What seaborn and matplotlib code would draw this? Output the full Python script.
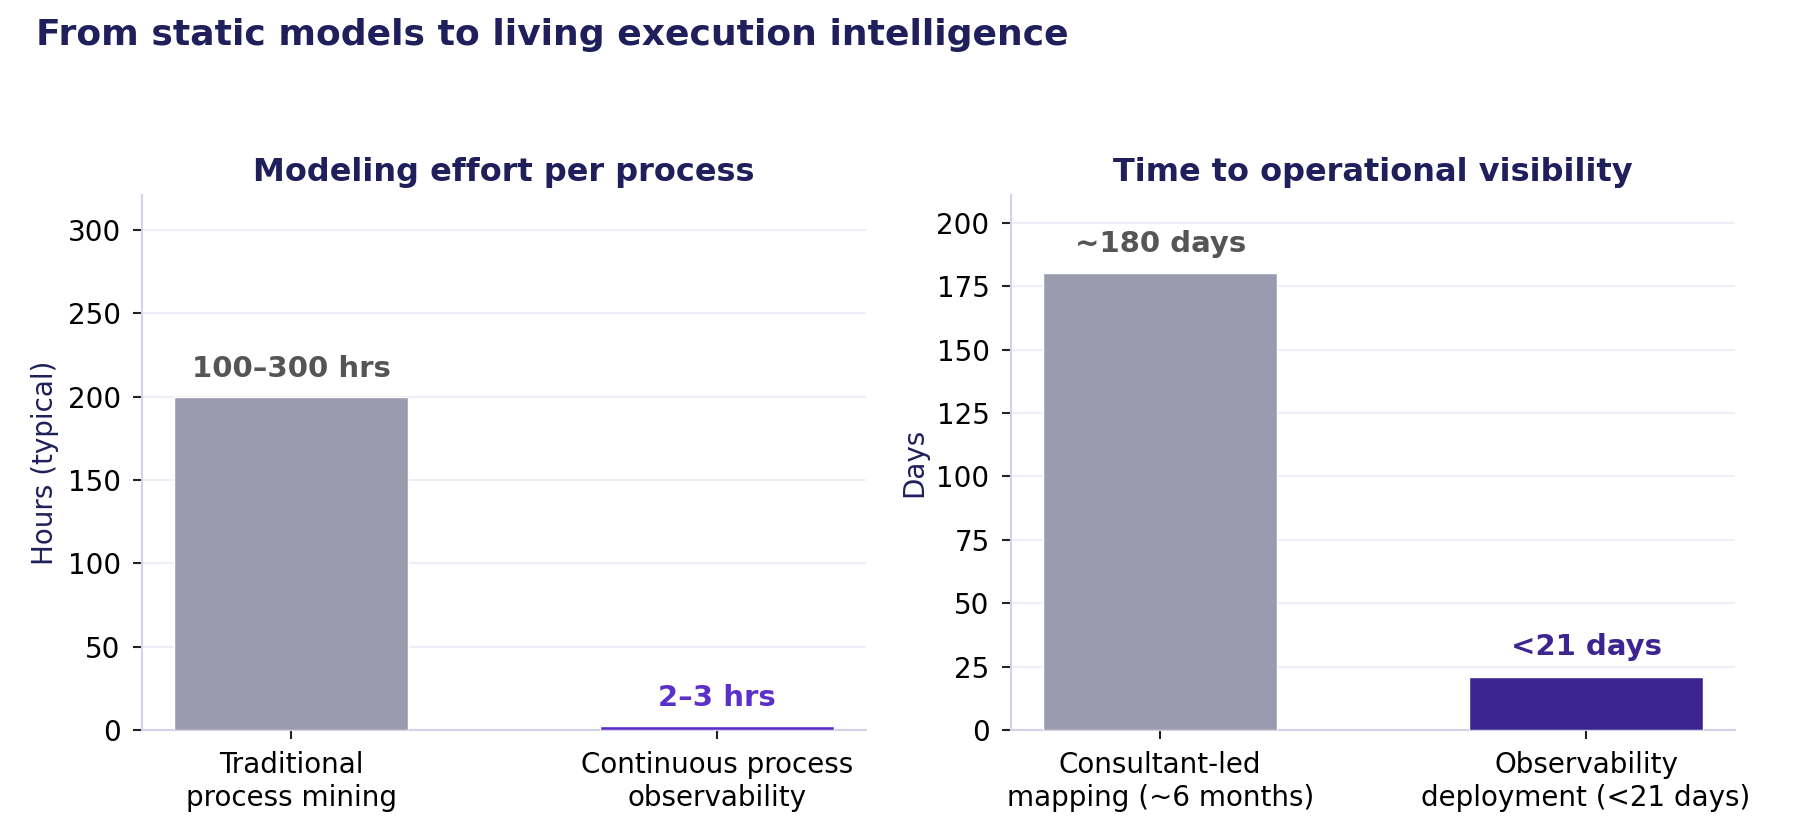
import matplotlib
matplotlib.use("Agg")
import matplotlib.pyplot as plt
import seaborn as sns
import pandas as pd

# data
effort_cats = ["Traditional\nprocess mining", "Continuous process\nobservability"]
effort_vals = [200, 2.5]
effort_labels = ["100–300 hrs", "2–3 hrs"]

time_cats = ["Consultant-led\nmapping (~6 months)", "Observability\ndeployment (<21 days)"]
time_vals = [180, 21]
time_labels = ["~180 days", "<21 days"]

GRAY = "#9b9bb0"
NAVY = "#1f1f5c"
SPINE = "#d4d2ea"
GRID = "#eeedf8"

sns.set_style("ticks")
plt.rcParams["font.family"] = ["DejaVu Sans"]

fig, axes = plt.subplots(1, 2, figsize=(18, 8.4), dpi=100)
fig.subplots_adjust(left=0.079, right=0.964, top=0.768, bottom=0.131, wspace=0.2)


def draw(ax, cats, vals, labels, colors, label_colors, ylabel, title, ylim, step, pad):
    df = pd.DataFrame({"cat": cats, "val": vals})
    sns.barplot(data=df, x="cat", y="val", hue="cat", palette=colors, legend=False,
                width=0.55, saturation=1, ax=ax, zorder=3)
    ax.set_xlim(-0.35, 1.35)
    ax.set_ylim(0, ylim)
    ax.set_yticks(range(0, ylim, step))
    ax.yaxis.grid(True, color=GRID, linewidth=1.5, zorder=0)
    ax.set_axisbelow(True)
    for s in ["top", "right"]:
        ax.spines[s].set_visible(False)
    for s in ["left", "bottom"]:
        ax.spines[s].set_color(SPINE)
        ax.spines[s].set_linewidth(1.5)
    ax.tick_params(axis="both", labelsize=20, length=6.5, width=1.5, pad=9,
                   color="#222222", labelcolor="black")
    ax.set_xlabel("")
    ax.set_ylabel(ylabel, fontsize=20, color=NAVY, labelpad=6)
    ax.set_title(title, fontsize=23, fontweight="bold", color=NAVY, pad=10)
    for i, (v, t, c) in enumerate(zip(vals, labels, label_colors)):
        ax.text(i, v + pad, t, ha="center", va="bottom", fontsize=21,
                fontweight="bold", color=c)


draw(axes[0], effort_cats, effort_vals, effort_labels,
     [GRAY, "#5b2fc9"], ["#555555", "#5b2fc9"],
     "Hours (typical)", "Modeling effort per process", 321, 50, 8)
draw(axes[1], time_cats, time_vals, time_labels,
     [GRAY, "#3d2591"], ["#555555", "#3d2591"],
     "Days", "Time to operational visibility", 211, 25, 6)

fig.text(0.02, 0.978, "From static models to living execution intelligence",
         fontsize=26, fontweight="bold", color=NAVY, ha="left", va="top")

fig.savefig("out.png", dpi=100)
